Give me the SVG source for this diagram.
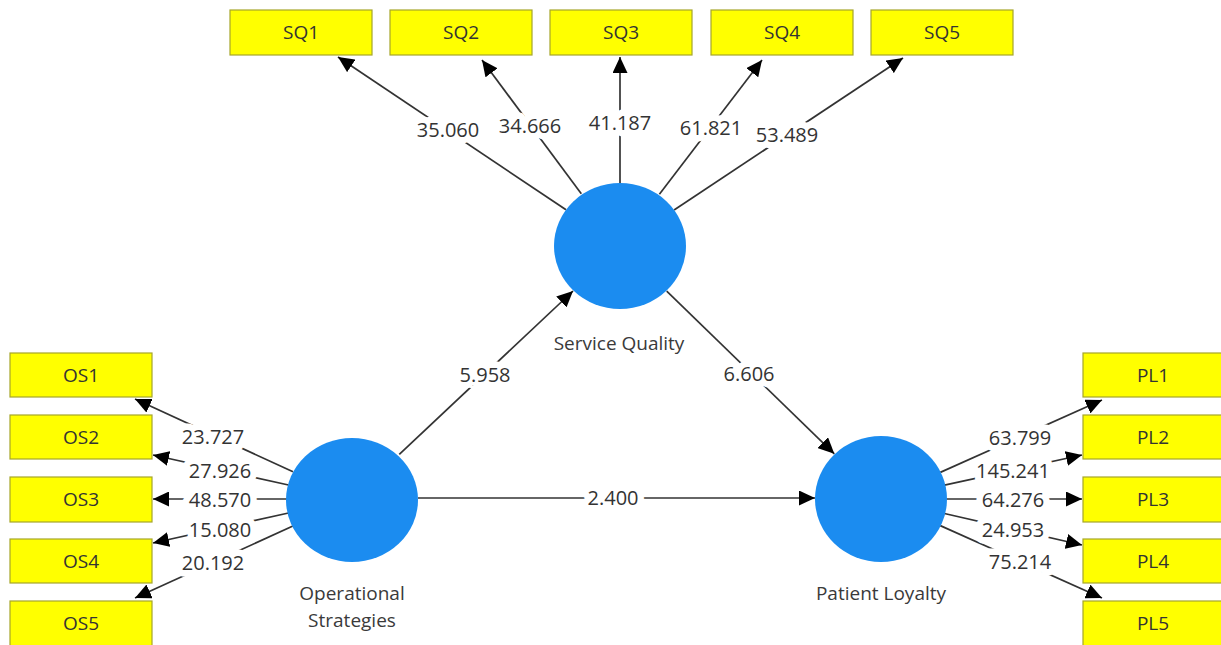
<svg xmlns="http://www.w3.org/2000/svg" width="1221" height="645" viewBox="0 0 1221 645">
<style>
.box{fill:#ffff00;stroke:#a6a62a;stroke-width:1.2}
.bt{font-family:"Open Sans","Noto Sans",sans-serif;font-size:19px;fill:#333;text-anchor:middle;dominant-baseline:central}
.lv{fill:#1b8cf0}
.lt{font-family:"Open Sans","Noto Sans",sans-serif;font-size:19px;fill:#3a3a3a;text-anchor:middle}
.ln{stroke:#333;stroke-width:1.7;fill:none;marker-end:url(#ah)}
.wt{font-family:"Open Sans","Noto Sans",sans-serif;font-size:20px;fill:#333;text-anchor:middle;dominant-baseline:central;stroke:#fff;stroke-width:13;paint-order:stroke;stroke-linejoin:round}
</style>
<defs>
<marker id="ah" markerUnits="userSpaceOnUse" markerWidth="17" markerHeight="15" refX="16" refY="7.5" orient="auto">
<path d="M0,0 L16,7.5 L0,15 Z" fill="#000"/>
</marker>
</defs>
<rect width="1221" height="645" fill="#fff"/>
<g id="connectors">
<line class="ln" x1="566" y1="209.8" x2="338" y2="57"/>
<line class="ln" x1="581.3" y1="193.8" x2="482" y2="60"/>
<line class="ln" x1="620" y1="183" x2="620" y2="57"/>
<line class="ln" x1="659.4" y1="194.3" x2="762" y2="60"/>
<line class="ln" x1="674.1" y1="210" x2="903" y2="58"/>
<line class="ln" x1="293" y1="471.8" x2="135" y2="399"/>
<line class="ln" x1="288.5" y1="485" x2="153" y2="455"/>
<line class="ln" x1="287" y1="499" x2="153" y2="499"/>
<line class="ln" x1="288.5" y1="513" x2="153" y2="543"/>
<line class="ln" x1="292.9" y1="526" x2="135" y2="598"/>
<line class="ln" x1="940.3" y1="472.4" x2="1102" y2="400"/>
<line class="ln" x1="944.5" y1="485.1" x2="1082" y2="455"/>
<line class="ln" x1="946" y1="499" x2="1082" y2="499"/>
<line class="ln" x1="944.4" y1="513.5" x2="1082" y2="545"/>
<line class="ln" x1="940.3" y1="525.6" x2="1102" y2="598"/>
<line class="ln" x1="399.3" y1="454.4" x2="573" y2="291"/>
<line class="ln" x1="666.7" y1="291.2" x2="834.3" y2="453.8"/>
<line class="ln" x1="418" y1="498" x2="815" y2="498"/>
<text class="wt" x="448" y="129">35.060</text>
<text class="wt" x="530" y="125">34.666</text>
<text class="wt" x="620" y="122">41.187</text>
<text class="wt" x="711" y="127">61.821</text>
<text class="wt" x="787" y="134">53.489</text>
<text class="wt" x="213" y="436">23.727</text>
<text class="wt" x="220" y="470">27.926</text>
<text class="wt" x="220" y="499">48.570</text>
<text class="wt" x="220" y="529">15.080</text>
<text class="wt" x="213" y="562">20.192</text>
<text class="wt" x="1020" y="437">63.799</text>
<text class="wt" x="1013" y="470">145.241</text>
<text class="wt" x="1013" y="499">64.276</text>
<text class="wt" x="1013" y="529">24.953</text>
<text class="wt" x="1020" y="561">75.214</text>
<text class="wt" x="485" y="374">5.958</text>
<text class="wt" x="749" y="373">6.606</text>
<text class="wt" x="613" y="497">2.400</text>
</g>
<g id="SQ1"><rect class="box" x="230" y="10" width="142" height="45"/><text class="bt" x="301" y="32">SQ1</text></g>
<g id="SQ2"><rect class="box" x="390" y="10" width="142" height="45"/><text class="bt" x="461" y="32">SQ2</text></g>
<g id="SQ3"><rect class="box" x="550" y="10" width="142" height="45"/><text class="bt" x="621" y="32">SQ3</text></g>
<g id="SQ4"><rect class="box" x="711" y="10" width="142" height="45"/><text class="bt" x="782" y="32">SQ4</text></g>
<g id="SQ5"><rect class="box" x="871" y="10" width="142" height="45"/><text class="bt" x="942" y="32">SQ5</text></g>
<g id="OS1"><rect class="box" x="10" y="353" width="142" height="44"/><text class="bt" x="81" y="375">OS1</text></g>
<g id="OS2"><rect class="box" x="10" y="415" width="142" height="44"/><text class="bt" x="81" y="437">OS2</text></g>
<g id="OS3"><rect class="box" x="10" y="477" width="142" height="45"/><text class="bt" x="81" y="499">OS3</text></g>
<g id="OS4"><rect class="box" x="10" y="539" width="142" height="44"/><text class="bt" x="81" y="561">OS4</text></g>
<g id="OS5"><rect class="box" x="10" y="601" width="142" height="46"/><text class="bt" x="81" y="623">OS5</text></g>
<g id="PL1"><rect class="box" x="1083" y="353" width="142" height="44"/><text class="bt" x="1153" y="375">PL1</text></g>
<g id="PL2"><rect class="box" x="1083" y="415" width="142" height="44"/><text class="bt" x="1153" y="437">PL2</text></g>
<g id="PL3"><rect class="box" x="1083" y="477" width="142" height="45"/><text class="bt" x="1153" y="499">PL3</text></g>
<g id="PL4"><rect class="box" x="1083" y="539" width="142" height="44"/><text class="bt" x="1153" y="561">PL4</text></g>
<g id="PL5"><rect class="box" x="1083" y="601" width="142" height="46"/><text class="bt" x="1153" y="623">PL5</text></g>
<g id="ServiceQuality"><ellipse class="lv" cx="620" cy="246" rx="66" ry="63"/><text class="lt" x="619" y="350">Service Quality</text></g>
<g id="OperationalStrategies"><ellipse class="lv" cx="352" cy="500" rx="66" ry="62"/><text class="lt" x="352" y="600">Operational</text><text class="lt" x="352" y="627">Strategies</text></g>
<g id="PatientLoyalty"><ellipse class="lv" cx="881" cy="499" rx="66" ry="63"/><text class="lt" x="881" y="600">Patient Loyalty</text></g>
</svg>
